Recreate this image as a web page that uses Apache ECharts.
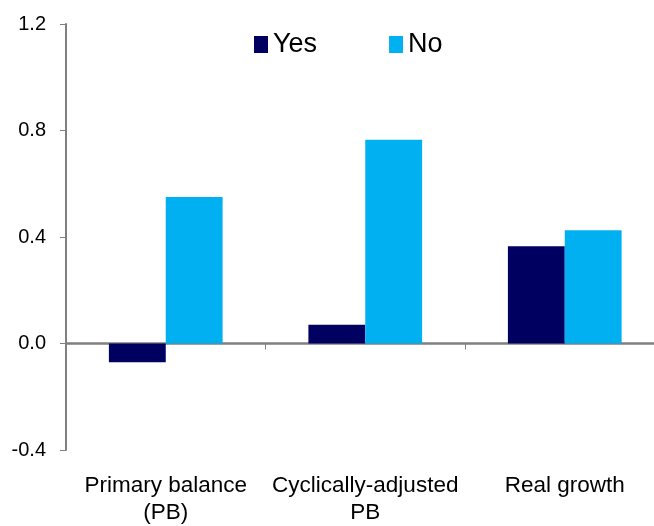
<!DOCTYPE html>
<html>
<head>
<meta charset="utf-8">
<script src="https://cdn.jsdelivr.net/npm/echarts@6/dist/echarts.min.js"></script>
<style>
html,body{margin:0;padding:0;background:#fff;}
#c{width:654px;height:526px;}
</style>
</head>
<body>
<div id="c"></div>
<script>
const categories = ['Primary balance\n(PB)', 'Cyclically-adjusted\nPB', 'Real growth'];
const yesValues = [-0.07, 0.07, 0.365];
const noValues = [0.55, 0.765, 0.425];
const seriesNames = ['Yes', 'No'];

const chart = echarts.init(document.getElementById('c'));
const font = 'Liberation Sans, Arial, sans-serif';
chart.setOption({
  animation: false,
  legend: {
    left: 254, top: 31, padding: 0,
    icon: 'rect',
    itemWidth: 14, itemHeight: 17, itemGap: 72,
    textStyle: { fontFamily: font, fontSize: 27, color: '#000', padding: [0, 0, 0, 0] },
    data: seriesNames
  },
  grid: { left: 66, top: 24, height: 426, width: 598.5, containLabel: false, outerBoundsMode: 'none' },
  xAxis: {
    type: 'category',
    data: categories,
    axisLine: { onZero: true, lineStyle: { color: '#808080', width: 2.5 } },
    axisTick: { show: true, length: 6, lineStyle: { color: '#808080', width: 1 } },
    axisLabel: { interval: 0, fontFamily: font, fontSize: 22.5, color: '#000', lineHeight: 27, margin: 22,
      formatter: v => v },
    splitLine: { show: false }
  },
  yAxis: {
    type: 'value',
    min: -0.4, max: 1.2, interval: 0.4,
    axisLine: { show: true, lineStyle: { color: '#808080', width: 2 } },
    axisTick: { show: true, length: 6, lineStyle: { color: '#808080', width: 1 } },
    axisLabel: { fontFamily: font, fontSize: 20, color: '#000', margin: 20,
      formatter: v => v.toFixed(1) },
    splitLine: { show: false }
  },
  series: [
    { name: seriesNames[0], type: 'bar', data: yesValues, barGap: '0%', barCategoryGap: '43%',
      itemStyle: { color: '#000060' } },
    { name: seriesNames[1], type: 'bar', data: noValues, barGap: '0%', barCategoryGap: '43%',
      itemStyle: { color: '#00B0F0' } }
  ]
});
</script>
</body>
</html>
